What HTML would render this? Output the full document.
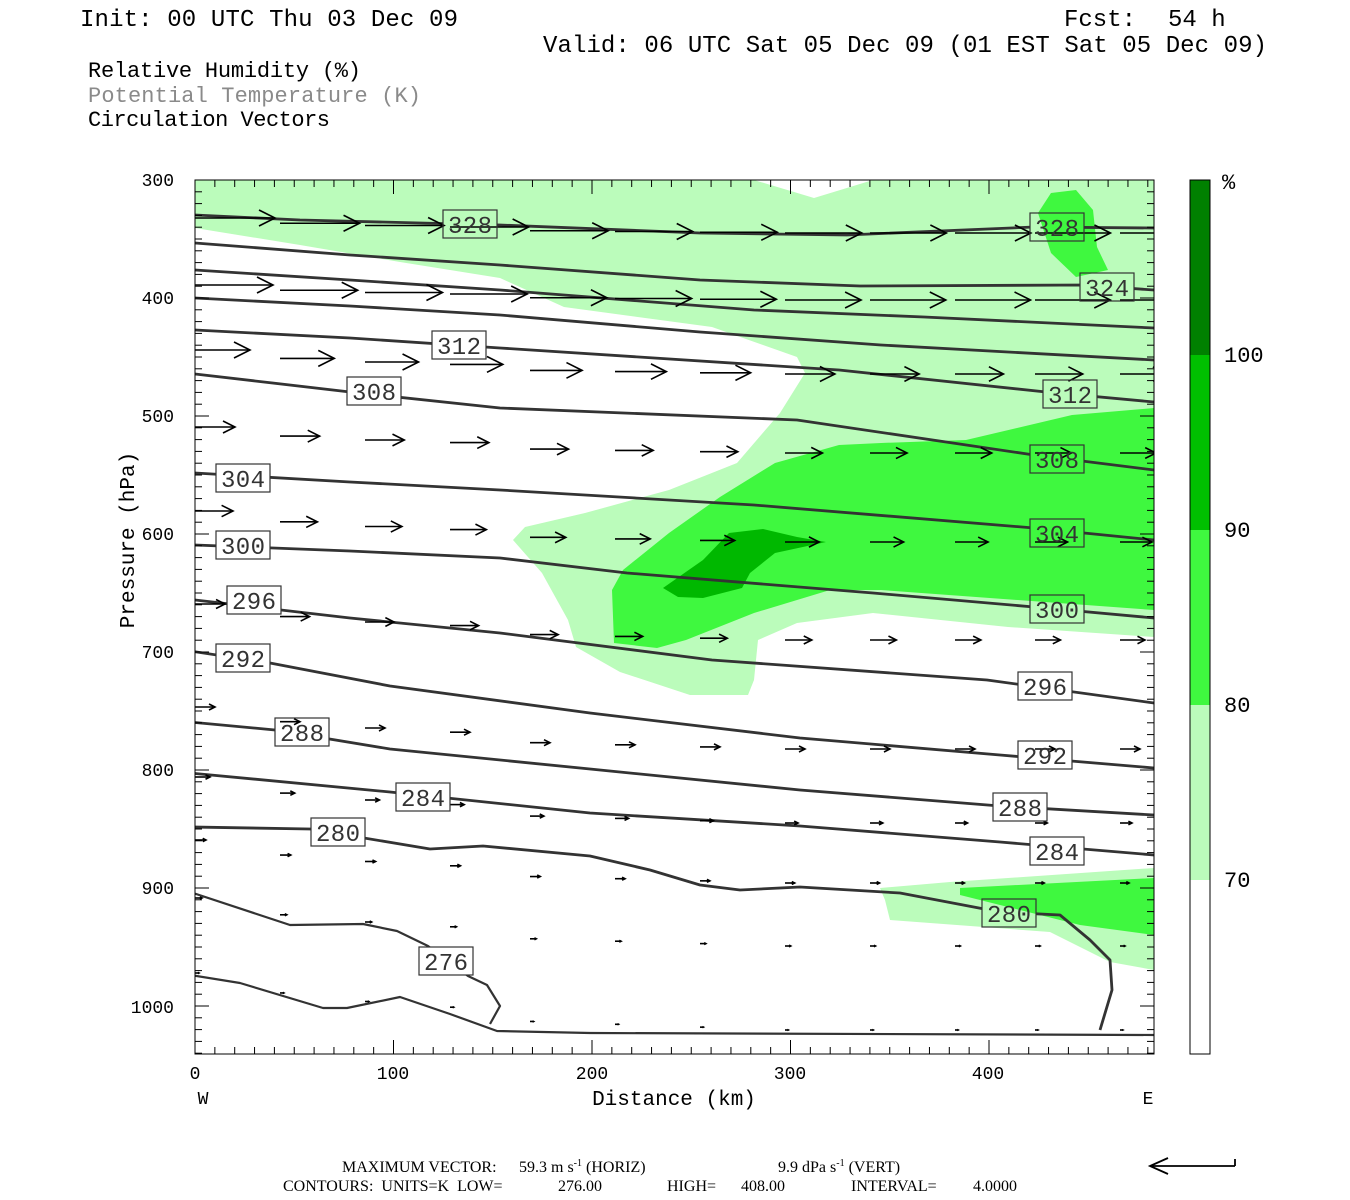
<!DOCTYPE html>
<html><head><meta charset="utf-8"><style>
html,body{margin:0;padding:0;background:#fff;}
svg{display:block;}
text{font-family:"Liberation Mono",monospace;white-space:pre;}
</style></head><body>
<svg id="s" width="1350" height="1200" viewBox="0 0 1350 1200" xmlns="http://www.w3.org/2000/svg">
<defs>
<clipPath id="pc"><rect x="195" y="180" width="959" height="874"/></clipPath>
<mask id="lm" maskUnits="userSpaceOnUse" x="0" y="0" width="1350" height="1200"><rect x="0" y="0" width="1350" height="1200" fill="#fff"/><g id="mk" fill="#000"></g></mask>
</defs>
<rect width="1350" height="1200" fill="#fff"/>
<text x="80" y="26" font-size="24" textLength="378" fill="#000">Init: 00 UTC Thu 03 Dec 09</text>
<text x="1064" y="26" font-size="24" fill="#000">Fcst:</text>
<text x="1168" y="26" font-size="24" fill="#000">54 h</text>
<text x="543" y="52" font-size="24" textLength="724" fill="#000">Valid: 06 UTC Sat 05 Dec 09 (01 EST Sat 05 Dec 09)</text>
<text x="88" y="77" font-size="22" textLength="273" fill="#000">Relative Humidity (%)</text>
<text x="88" y="102" font-size="22" textLength="333" fill="#8a8a8a">Potential Temperature (K)</text>
<text x="88" y="126" font-size="22" textLength="242" fill="#000">Circulation Vectors</text>

<g id="plot">
<path fill="#bbfcbb" d="M195,180 L754,180 L814,198 L873,180 L1154,180 L1154,637 L1008,627 L873,613 L797,623 L758,640 L754,680 L748,695 L690,695 L620,672 L576,647 L568,620 L542,573 L513,540 L525,527 L585,513 L669,490 L737,463 L780,413 L805,373 L797,357 L712,327 L564,307 L500,278 L400,262 L300,245 L195,228 Z"/>
<path fill="#bbfcbb" d="M880,888 L950,882 L1154,868 L1154,970 L1110,962 L1050,932 L890,920 L885,900 Z"/>
<path fill="#3ff83f" d="M1154,408 L1072,415 L966,440 L881,443 L839,445 L775,463 L720,497 L669,533 L623,570 L612,590 L614,643 L657,648 L686,640 L754,613 L830,590 L881,590 L1154,610 Z"/>
<path fill="#3ff83f" d="M1051,193 L1076,190 L1093,210 L1097,247 L1108,270 L1076,277 L1051,253 L1038,213 Z"/>
<path fill="#3ff83f" d="M960,888 L1154,878 L1154,935 L1080,925 L1000,905 L960,895 Z"/>
<path fill="#00b800" d="M663,588 L703,560 L729,533 L763,529 L797,537 L826,542 L775,553 L750,573 L742,588 L703,598 L678,597 Z"/>
</g>
<g id="cont" fill="none" stroke="#333" stroke-width="2.8" stroke-linejoin="round" mask="url(#lm)" clip-path="url(#pc)">
<polyline points="195,215 300,220 500,225 700,233 847,235 1034,227 1154,228"/>
<polyline points="195,243 350,255 500,265 700,280 860,286 1083,285 1154,290"/>
<polyline points="195,270 350,280 500,290 754,310 924,317 1154,328"/>
<polyline points="195,298 350,306 500,315 700,332 881,345 1154,360"/>
<polyline points="195,330 350,338 500,348 839,370 1046,392 1154,402"/>
<polyline points="195,374 350,392 500,408 797,420 1034,455 1154,470"/>
<polyline points="195,473 350,482 500,490 754,505 1034,528 1154,540"/>
<polyline points="195,545 350,551 500,558 627,573 873,593 1034,607 1154,618"/>
<polyline points="195,600 350,618 500,633 712,660 987,680 1154,703"/>
<polyline points="190,651 270,663 390,686 590,713 800,738 1000,755 1154,768"/>
<polyline points="190,722 275,730 390,749 590,769 800,790 1000,806 1154,815"/>
<polyline points="190,773 390,792 590,813 800,826 1000,842 1154,855"/>
<polyline points="190,827 310,829 430,849 483,846 590,856 650,870 700,885 740,890 800,887 900,893 1000,912 1060,915 1090,940 1110,960 1112,990 1100,1030"/>
<polyline stroke-width="2.2" points="190,892 290,925 363,924 397,931 428,946 468,976 487,985 500,1006 490,1024"/>
<polyline stroke-width="2.2" points="190,975 240,983 323,1008 347,1008 400,997 450,1014 497,1031 590,1033 1154,1035"/>
</g>
<g id="arrows" stroke="#000" fill="none" stroke-width="1.6" clip-path="url(#pc)"></g>
<g id="labels" font-size="24" fill="#333"></g>
<g id="ticks" stroke="#000" stroke-width="1"></g>
<rect x="195" y="180" width="959" height="874" fill="none" stroke="#000" stroke-width="1"/>

<g font-size="18" fill="#000" text-anchor="end">
<text x="174" y="186">300</text><text x="174" y="304">400</text><text x="174" y="422">500</text>
<text x="174" y="540">600</text><text x="174" y="658">700</text><text x="174" y="776">800</text>
<text x="174" y="894">900</text><text x="174" y="1013">1000</text>
</g>
<g font-size="18" fill="#000" text-anchor="middle">
<text x="195" y="1079">0</text><text x="393" y="1079">100</text><text x="592" y="1079">200</text>
<text x="790" y="1079">300</text><text x="988" y="1079">400</text>
<text x="203" y="1104">W</text><text x="1148" y="1104">E</text>
</g>
<text x="674" y="1105" font-size="21" text-anchor="middle" fill="#000">Distance (km)</text>
<text transform="translate(134,540) rotate(-90)" font-size="21" text-anchor="middle" fill="#000">Pressure (hPa)</text>

<rect x="1190" y="180" width="20" height="175" fill="#008000"/>
<rect x="1190" y="355" width="20" height="175" fill="#00c000"/>
<rect x="1190" y="530" width="20" height="175" fill="#3ff83f"/>
<rect x="1190" y="705" width="20" height="175" fill="#bbfcbb"/>
<rect x="1190" y="880" width="20" height="174" fill="#fff"/>
<rect x="1190" y="180" width="20" height="874" fill="none" stroke="#000"/>
<g font-size="22" fill="#000">
<text x="1222" y="189">%</text><text x="1224" y="362">100</text><text x="1224" y="537">90</text>
<text x="1224" y="712">80</text><text x="1224" y="887">70</text>
</g>
<g fill="#000" font-size="16">
<text x="342" y="1172" style="font-family:'Liberation Serif',serif">MAXIMUM VECTOR:</text>
<text x="519" y="1172" style="font-family:'Liberation Serif',serif">59.3 m s<tspan dy="-6" font-size="10">-1</tspan><tspan dy="6"> (HORIZ)</tspan></text>
<text x="778" y="1172" style="font-family:'Liberation Serif',serif">9.9 dPa s<tspan dy="-6" font-size="10">-1</tspan><tspan dy="6"> (VERT)</tspan></text>
<text x="283" y="1191" style="font-family:'Liberation Serif',serif">CONTOURS:  UNITS=K  LOW=</text>
<text x="558" y="1191" style="font-family:'Liberation Serif',serif">276.00</text>
<text x="667" y="1191" style="font-family:'Liberation Serif',serif">HIGH=</text>
<text x="741" y="1191" style="font-family:'Liberation Serif',serif">408.00</text>
<text x="851" y="1191" style="font-family:'Liberation Serif',serif">INTERVAL=</text>
<text x="973" y="1191" style="font-family:'Liberation Serif',serif">4.0000</text>
</g>
<g stroke="#000" stroke-width="1.8" fill="none">
<line x1="1150" y1="1166" x2="1235" y2="1166"/><line x1="1235" y1="1166" x2="1235" y2="1159"/>
<polyline points="1168,1158 1150,1166 1168,1174"/>
</g>
</svg>
<script>
(function(){
var NS="http://www.w3.org/2000/svg";
function el(p,t,a){var e=document.createElementNS(NS,t);for(var k in a)e.setAttribute(k,a[k]);p.appendChild(e);return e;}
var tk=document.getElementById('ticks');
for(var p=300;p<=1040;p+=10){var y=180+(p-300)*1.18;var L=(p%100==0)?14:7;
 el(tk,'line',{x1:195,y1:y,x2:195+L,y2:y});el(tk,'line',{x1:1154,y1:y,x2:1154-L,y2:y});}
for(var d=0;d<=483;d+=10){var x=195+d*1.985;var L=(d%100==0)?14:7;
 el(tk,'line',{x1:x,y1:1054,x2:x,y2:1054-L});el(tk,'line',{x1:x,y1:180,x2:x,y2:180+L});}
var ar=document.getElementById('arrows');
var cols=[195,280,365,450,530,615,700,785,870,955,1035,1120];
var fr=[0,0.35,0.5,0.6,0.85,0.9,0.95,1,1,1,1,1];
var rows=[[218,233,80,75],[285,300,78,75],[350,374,55,47],[427,453,40,36],[511,542,38,32],[604,640,30,25],[707,749,20,20],[777,823,15,12],[840,883,11,9],[898,946,7,5],[973,1030,4,3]];
rows.forEach(function(r){cols.forEach(function(x,i){
 var y=r[0]+(r[1]-r[0])*fr[i];var len=r[2]+(r[3]-r[2])*i/11;
 var x2=x+len;el(ar,'line',{x1:x,y1:y,x2:x2,y2:y});
 var h=Math.min(16,len*0.3),w=Math.min(8,len*0.15);
 el(ar,'polyline',{points:(x2-h)+','+(y-w)+' '+x2+','+y+' '+(x2-h)+','+(y+w)});
});});
var lb=document.getElementById('labels');var mk=document.getElementById('mk');
var labs=[[470,224,'328'],[1057,227,'328'],[1107,287,'324'],[459,345,'312'],[1070,394,'312'],[374,391,'308'],[1057,459,'308'],[243,478,'304'],[1057,533,'304'],[243,545,'300'],[1057,609,'300'],[254,600,'296'],[1045,686,'296'],[243,658,'292'],[1045,755,'292'],[302,732,'288'],[1020,807,'288'],[423,797,'284'],[1057,851,'284'],[338,832,'280'],[1009,913,'280'],[446,961,'276']];
labs.forEach(function(l){
 el(mk,'rect',{x:l[0]-27,y:l[1]-14,width:54,height:28});
 el(lb,'rect',{x:l[0]-27,y:l[1]-14,width:54,height:28,fill:'none',stroke:'#333','stroke-width':1.2});
 var t=el(lb,'text',{x:l[0],y:l[1]+9,'text-anchor':'middle',textLength:44,'font-size':24});t.textContent=l[2];
});
})();
</script>
</body></html>
